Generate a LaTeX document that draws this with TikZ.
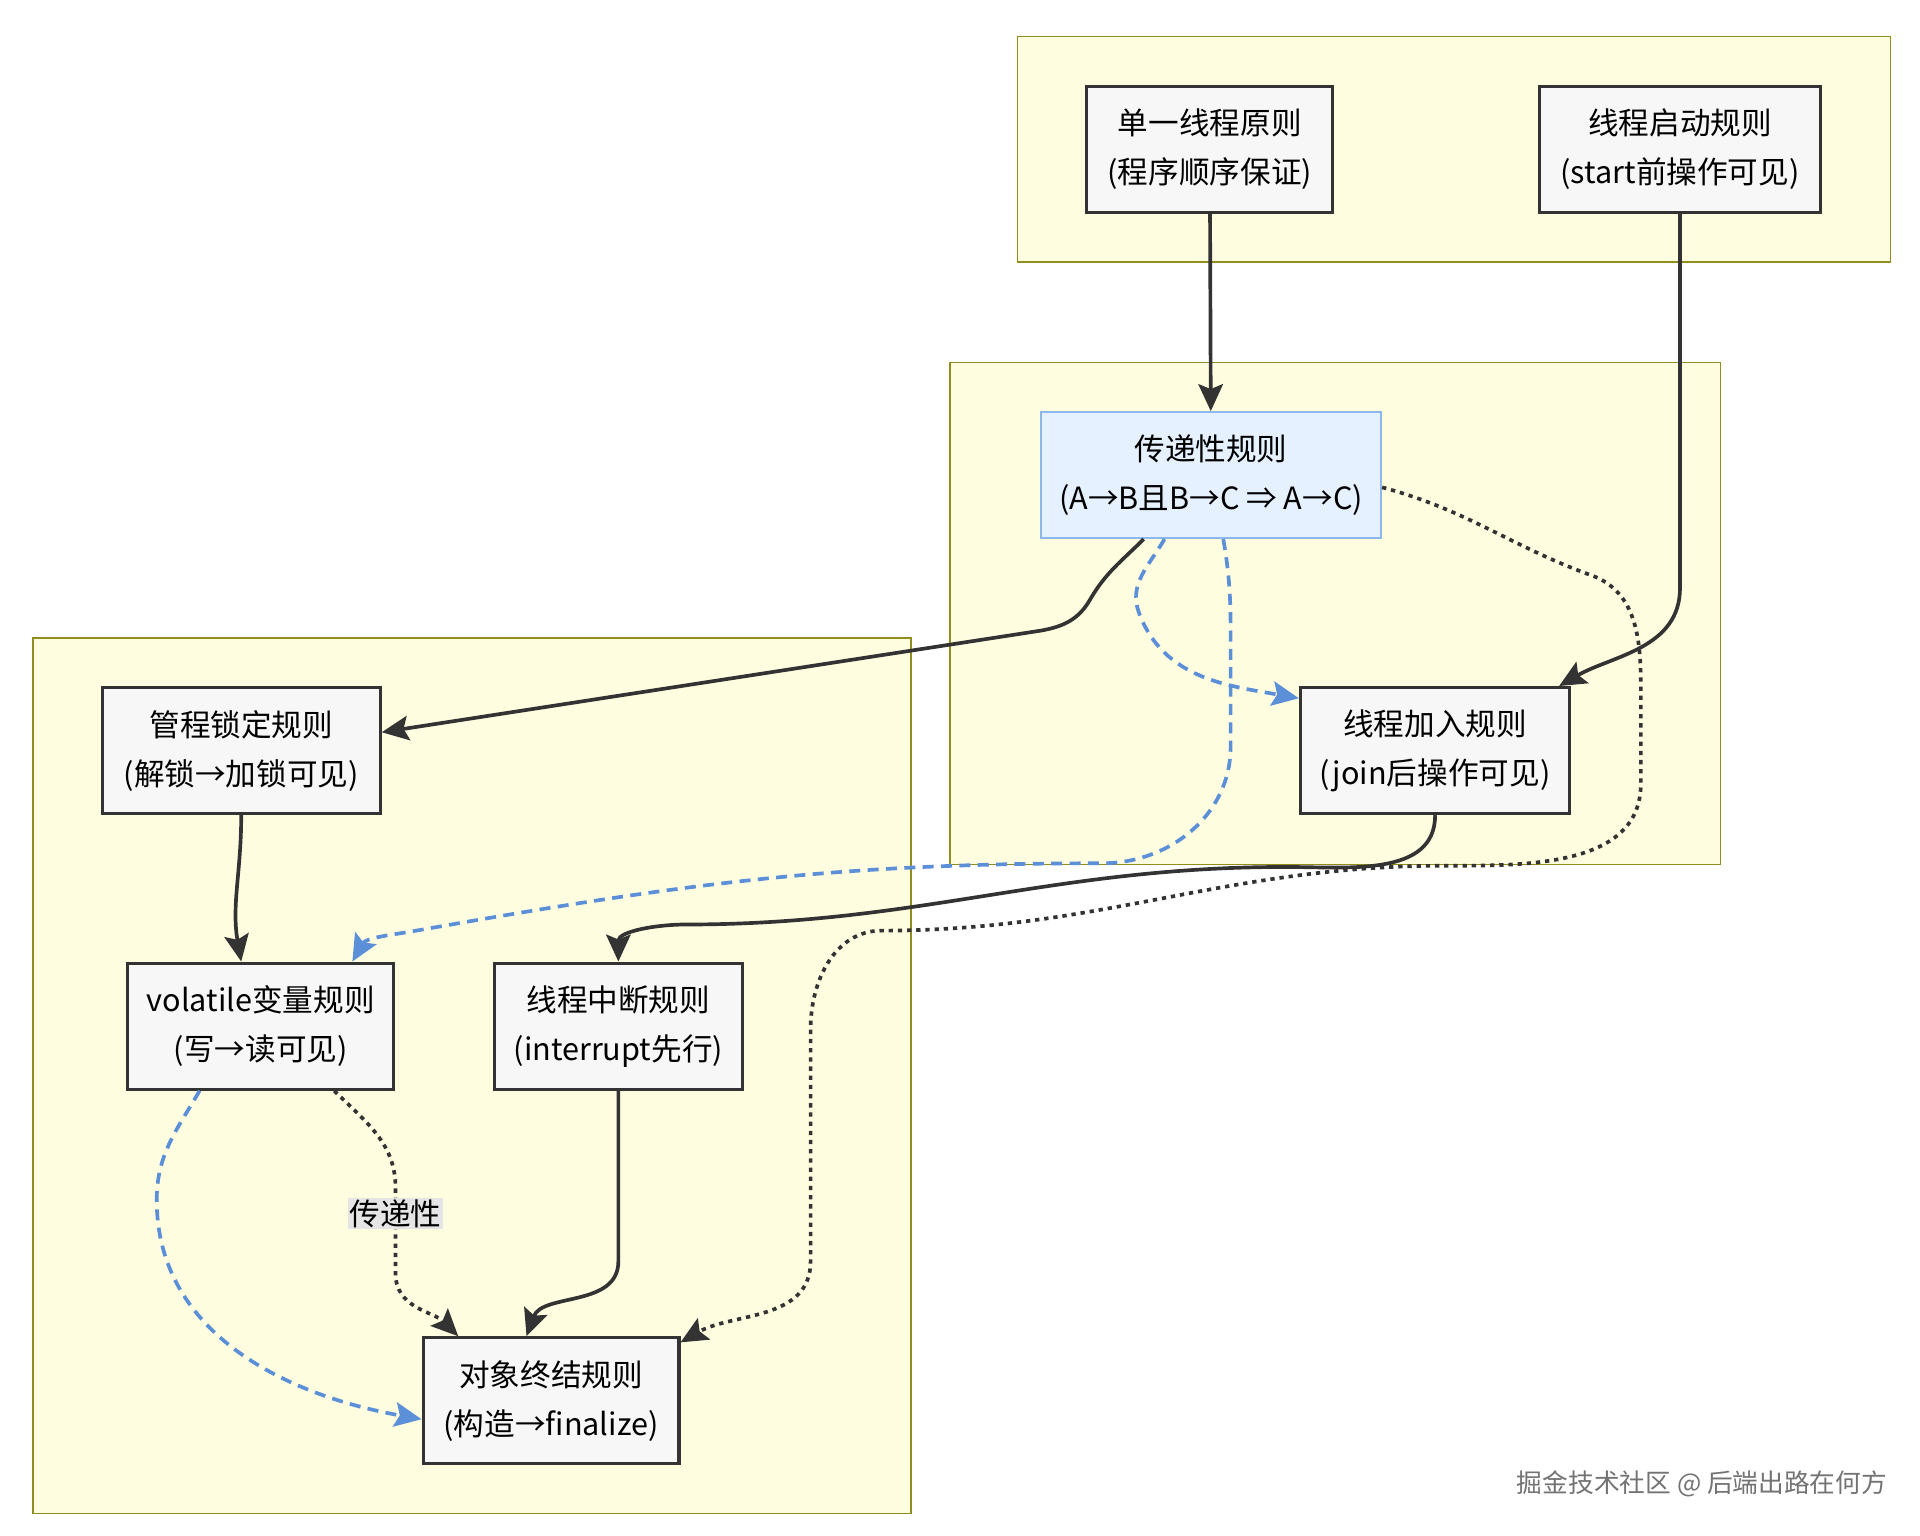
\documentclass[tikz,border=0pt]{standalone}
\usepackage{fontspec}
\setmainfont{Noto Sans CJK SC}
\usetikzlibrary{arrows.meta}

\definecolor{edgeblue}{HTML}{5B8FD8}
\definecolor{transfill}{HTML}{E6F1FF}
\definecolor{transdraw}{HTML}{8CB8EE}

\tikzset{
  rule/.style={draw=black!80, line width=2.5pt, fill=black!3, align=center,
    minimum width=#1, minimum height=103pt, inner sep=0pt, font=\fontsize{25}{40}\selectfont},
  rule/.default=210pt,
  group/.style={draw=olive!70!yellow!80!black, line width=1.2pt, fill=yellow!12},
  flow/.style={line width=3pt, draw=black!80, -{Stealth[length=22pt,width=20pt,inset=4pt]}},
  blueflow/.style={flow, draw=edgeblue, dash pattern=on 9pt off 6pt},
  dotflow/.style={flow, dash pattern=on 3.5pt off 4pt}
}

\begin{document}
\begin{tikzpicture}[x=1pt,y=-1pt]
	% page
	\fill[white] (0,0) rectangle (1568,1254);
	\useasboundingbox (0,0) rectangle (1568,1254);

	% groups
	\filldraw[group] (831,30) rectangle (1544,214);
	\filldraw[group] (776,296) rectangle (1405,706);
	\filldraw[group] (27,521) rectangle (744,1236);

	% rules
	\node[rule=201pt] (single) at (988,122) {单一线程原则\\(程序顺序保证)};
	\node[rule=230pt] (start) at (1372,122) {线程启动规则\\(start前操作可见)};
	\node[rule=278pt, draw=transdraw, line width=1.5pt, fill=transfill] (trans) at (989,388) {传递性规则\\(A→B且B→C ⇒ A→C)};
	\node[rule=220pt] (join) at (1172,613) {线程加入规则\\(join后操作可见)};
	\node[rule=227pt] (monitor) at (197,613) {管程锁定规则\\(解锁→加锁可见)};
	\node[rule=217pt] (volatile) at (213,838) {volatile变量规则\\(写→读可见)};
	\node[rule=203pt] (interrupt) at (505,838) {线程中断规则\\(interrupt先行)};
	\node[rule=209pt] (final) at (450,1144) {对象终结规则\\(构造→finalize)};

	% edges
	\draw[flow] (single) -- (trans);
	\draw[flow] (start.south) -- (1372,480) to[out=-90,in=30] ([xshift=-10pt]join.north east);
	\draw[flow] ([xshift=-55pt]trans.south) to[out=-135,in=60] (890,490) to[out=-120,in=10] (850,515) -- ([yshift=15pt]monitor.east);
	\draw[blueflow] ([xshift=-38pt]trans.south) to[out=-120,in=110] (930,500) to[out=-70,in=170] ([yshift=-10pt]join.north west);
	\draw[blueflow] ([xshift=10pt]trans.south) to[out=-80,in=90] (1005,540) -- (1005,610) to[out=-90,in=0] (900,705) to[out=180,in=10] (340,760) to[out=190,in=60] ([xshift=-35pt]volatile.north east);
	\draw[dotflow] ([yshift=-10pt]trans.east) to[out=-15,in=160] (1300,470) to[out=-20,in=90] (1340,560) -- (1340,640) to[out=-90,in=0] (1180,707) to[out=180,in=0] (720,760) to[out=180,in=90] (662,840) -- (662,1030) to[out=-90,in=30] ([yshift=-5pt]final.north east);
	\draw[flow] (monitor) to[out=-90,in=100] (monitor|-volatile.north);
	\draw[flow] (join.south) to[out=-90,in=0] (1050,708) to[out=180,in=0] (560,755) to[out=180,in=90] (interrupt.north);
	\draw[blueflow] ([xshift=-50pt]volatile.south) to[out=-120,in=90] (128,980) to[out=-90,in=170] ([yshift=-15pt]final.west);
	\draw[dotflow] ([xshift=60pt]volatile.south) to[out=-45,in=90] (323,970) -- (323,1040) to[out=-90,in=135] ([xshift=30pt]final.north west);
	\node[fill=black!10, inner sep=1pt, font=\fontsize{25}{30}\selectfont] (translabel) at (323,991) {传递性};
	\draw[flow] (interrupt) -- (505,1030) to[out=-90,in=70] ([xshift=-20pt]final.north);

	% watermark
	\node[text=black!55, font=\fontsize{21}{25}\selectfont] (mark) at (1390,1212) {掘金技术社区 @ 后端出路在何方};
\end{tikzpicture}
\end{document}
